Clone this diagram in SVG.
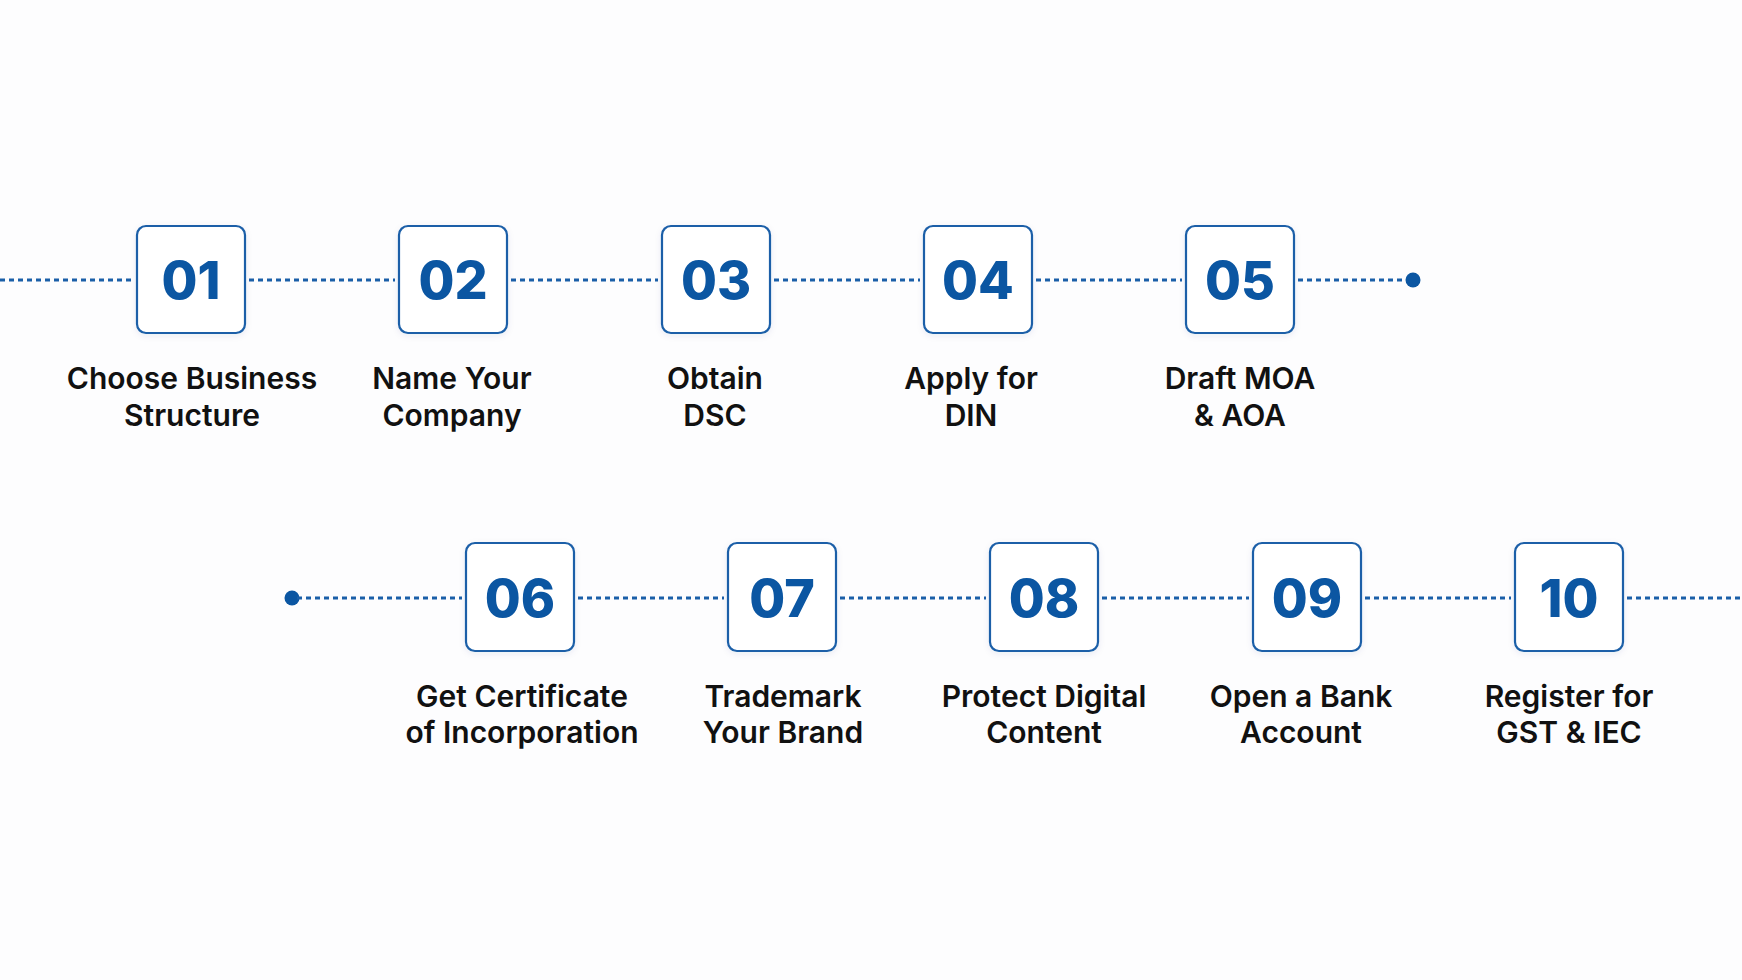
<svg xmlns="http://www.w3.org/2000/svg" width="1742" height="980" viewBox="0 0 1742 980">
<defs>
<filter id="sh" x="-20%" y="-20%" width="140%" height="140%">
<feDropShadow dx="0" dy="2" stdDeviation="3" flood-color="#0a3d7a" flood-opacity="0.08"/>
</filter>
<style>
.bg{fill:#fdfdfe}
.box{fill:#ffffff;stroke:#1a5fa8;stroke-width:2.2}
.num{font-family:Inter,"Liberation Sans",sans-serif;font-weight:800;font-size:52px;fill:#0b56a2;text-anchor:middle}
.lbl{font-family:Inter,"Liberation Sans",sans-serif;font-weight:600;font-size:30px;fill:#111111;text-anchor:middle}
.dl{stroke:#1a5fa8;stroke-width:3;stroke-dasharray:5 4;fill:none}
.dot{fill:#0b56a2}
</style>
</defs>
<rect class="bg" x="0" y="0" width="1742" height="980"/>
<g id="connectors">
<line class="dl" x1="0" y1="280" x2="133" y2="280"/>
<line class="dl" x1="249" y1="280" x2="395" y2="280"/>
<line class="dl" x1="511" y1="280" x2="658" y2="280"/>
<line class="dl" x1="774" y1="280" x2="920" y2="280"/>
<line class="dl" x1="1036" y1="280" x2="1182" y2="280"/>
<line class="dl" x1="1298" y1="280" x2="1408" y2="280"/>
<circle class="dot" cx="1413" cy="280" r="7.5"/>
<circle class="dot" cx="292" cy="598" r="7.5"/>
<line class="dl" x1="297" y1="598" x2="462" y2="598"/>
<line class="dl" x1="578" y1="598" x2="724" y2="598"/>
<line class="dl" x1="840" y1="598" x2="986" y2="598"/>
<line class="dl" x1="1102" y1="598" x2="1249" y2="598"/>
<line class="dl" x1="1365" y1="598" x2="1511" y2="598"/>
<line class="dl" x1="1627" y1="598" x2="1742" y2="598"/>
</g>
<g id="node01"><rect class="box" filter="url(#sh)" x="137" y="226" width="108" height="107" rx="9"/><text class="num" x="191" y="299">01</text><text class="lbl" x="192" y="389">Choose Business</text><text class="lbl" x="192" y="426">Structure</text></g>
<g id="node02"><rect class="box" filter="url(#sh)" x="399" y="226" width="108" height="107" rx="9"/><text class="num" x="453" y="299">02</text><text class="lbl" x="452" y="389">Name Your</text><text class="lbl" x="452" y="426">Company</text></g>
<g id="node03"><rect class="box" filter="url(#sh)" x="662" y="226" width="108" height="107" rx="9"/><text class="num" x="716" y="299">03</text><text class="lbl" x="715" y="389">Obtain</text><text class="lbl" x="715" y="426">DSC</text></g>
<g id="node04"><rect class="box" filter="url(#sh)" x="924" y="226" width="108" height="107" rx="9"/><text class="num" x="978" y="299">04</text><text class="lbl" x="971" y="389">Apply for</text><text class="lbl" x="971" y="426">DIN</text></g>
<g id="node05"><rect class="box" filter="url(#sh)" x="1186" y="226" width="108" height="107" rx="9"/><text class="num" x="1240" y="299">05</text><text class="lbl" x="1240" y="389">Draft MOA</text><text class="lbl" x="1240" y="426">&amp; AOA</text></g>
<g id="node06"><rect class="box" filter="url(#sh)" x="466" y="543" width="108" height="108" rx="9"/><text class="num" x="520" y="617">06</text><text class="lbl" x="522" y="707">Get Certificate</text><text class="lbl" x="522" y="743">of Incorporation</text></g>
<g id="node07"><rect class="box" filter="url(#sh)" x="728" y="543" width="108" height="108" rx="9"/><text class="num" x="782" y="617">07</text><text class="lbl" x="783" y="707">Trademark</text><text class="lbl" x="783" y="743">Your Brand</text></g>
<g id="node08"><rect class="box" filter="url(#sh)" x="990" y="543" width="108" height="108" rx="9"/><text class="num" x="1044" y="617">08</text><text class="lbl" x="1044" y="707">Protect Digital</text><text class="lbl" x="1044" y="743">Content</text></g>
<g id="node09"><rect class="box" filter="url(#sh)" x="1253" y="543" width="108" height="108" rx="9"/><text class="num" x="1307" y="617">09</text><text class="lbl" x="1301" y="707">Open a Bank</text><text class="lbl" x="1301" y="743">Account</text></g>
<g id="node10"><rect class="box" filter="url(#sh)" x="1515" y="543" width="108" height="108" rx="9"/><text class="num" x="1569" y="617">10</text><text class="lbl" x="1569" y="707">Register for</text><text class="lbl" x="1569" y="743">GST &amp; IEC</text></g>
</svg>
